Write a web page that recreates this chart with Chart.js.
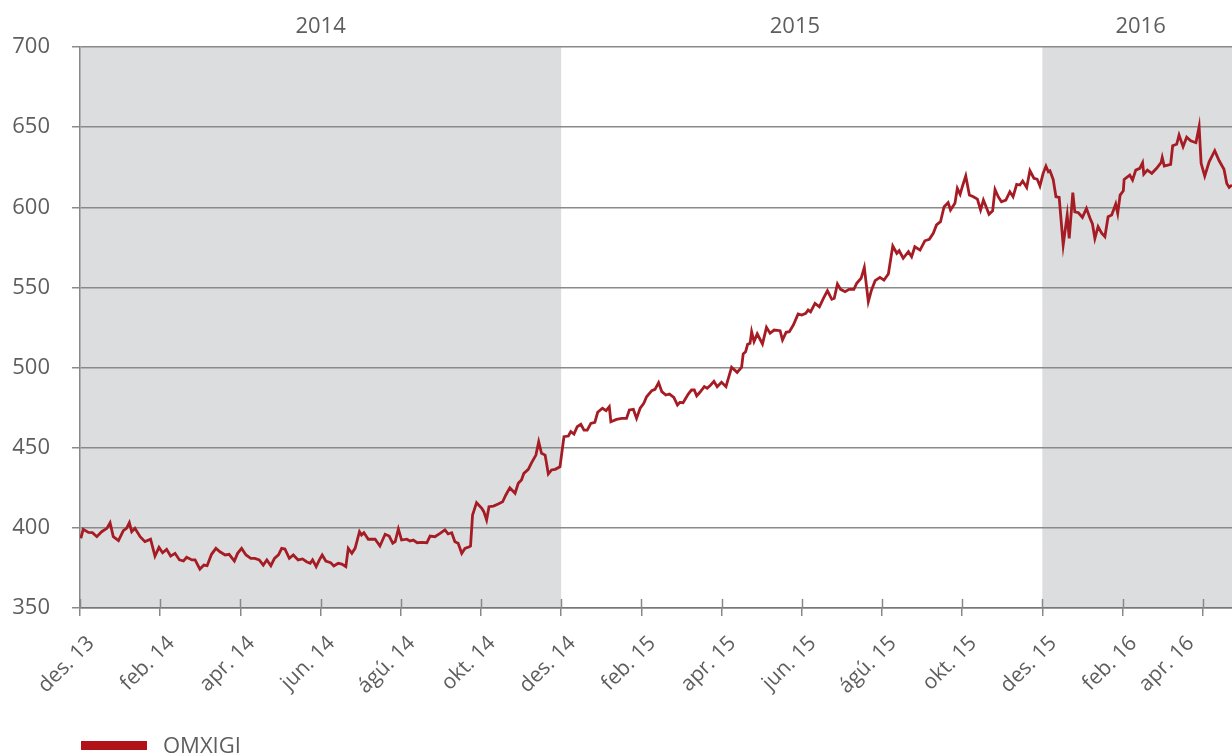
<!DOCTYPE html>
<html>
<head>
<meta charset="utf-8">
<title>OMXIGI</title>
<script src="https://cdn.jsdelivr.net/npm/chart.js@4.4.1/dist/chart.umd.min.js"></script>
<style>
  html, body { margin: 0; padding: 0; background: #fff; overflow: hidden; }
  #wrap { width: 1232px; height: 756px; }
</style>
</head>
<body>
<div id="wrap"><canvas id="myChart"></canvas></div>
<script>
// x-axis labels, one every 2 months starting des. 13 (month 0)
var tickLabels = ['des. 13', 'feb. 14', 'apr. 14', 'jun. 14', 'ágú. 14', 'okt. 14', 'des. 14',
  'feb. 15', 'apr. 15', 'jun. 15', 'ágú. 15', 'okt. 15', 'des. 15', 'feb. 16', 'apr. 16']

// shaded years (in months from des. 13)
var years = ['2014', '2015', '2016']
var yearStart = [0, 12, 24]
var yearEnd = [12, 24, 28.73]
var yearCaptionAt = [6, 17.83, 26.45]
var yearShaded = [true, false, true]

// months since des. 13
var months = [
  0.02, 0.08, 0.21, 0.31, 0.42, 0.54, 0.67, 0.75, 0.83, 0.96, 1.08, 1.16, 1.23, 1.29, 1.37, 1.50,
  1.62, 1.76, 1.87, 1.97, 2.06, 2.16, 2.26, 2.37, 2.48, 2.58, 2.66, 2.79, 2.87, 2.99, 3.09, 3.17,
  3.28, 3.39, 3.49, 3.62, 3.72, 3.85, 3.93, 4.03, 4.14, 4.26, 4.36, 4.47, 4.57, 4.66, 4.76, 4.85,
  4.95, 5.03, 5.11, 5.22, 5.32, 5.44, 5.55, 5.65, 5.74, 5.80, 5.89, 5.97, 6.04, 6.13, 6.25, 6.33,
  6.44, 6.53, 6.63, 6.69, 6.78, 6.86, 6.97, 7.02, 7.08, 7.19, 7.36, 7.48, 7.61, 7.71, 7.80, 7.86,
  7.94, 8.02, 8.15, 8.23, 8.31, 8.41, 8.52, 8.65, 8.73, 8.85, 8.98, 9.10, 9.18, 9.27, 9.35, 9.43,
  9.52, 9.60, 9.71, 9.74, 9.79, 9.89, 10.02, 10.07, 10.14, 10.20, 10.31, 10.43, 10.54, 10.62, 10.72, 10.85,
  10.93, 11.01, 11.07, 11.18, 11.26, 11.37, 11.44, 11.51, 11.60, 11.68, 11.76, 11.85, 11.97, 12.07, 12.18, 12.24,
  12.32, 12.40, 12.49, 12.57, 12.65, 12.74, 12.84, 12.91, 13.03, 13.12, 13.20, 13.24, 13.38, 13.51, 13.63, 13.70,
  13.80, 13.88, 13.97, 14.06, 14.13, 14.26, 14.34, 14.43, 14.51, 14.61, 14.70, 14.81, 14.90, 14.96, 15.04, 15.17,
  15.25, 15.32, 15.38, 15.46, 15.57, 15.64, 15.73, 15.81, 15.89, 16.00, 16.11, 16.25, 16.39, 16.50, 16.54, 16.60,
  16.65, 16.71, 16.75, 16.81, 16.89, 17.02, 17.12, 17.21, 17.31, 17.46, 17.52, 17.61, 17.69, 17.79, 17.91, 18.00,
  18.10, 18.16, 18.22, 18.33, 18.44, 18.54, 18.64, 18.75, 18.81, 18.89, 18.97, 19.08, 19.18, 19.30, 19.37, 19.48,
  19.56, 19.66, 19.74, 19.83, 19.95, 20.05, 20.16, 20.27, 20.37, 20.43, 20.53, 20.66, 20.74, 20.82, 20.95, 21.07,
  21.18, 21.28, 21.36, 21.46, 21.55, 21.65, 21.71, 21.82, 21.88, 21.95, 22.01, 22.09, 22.18, 22.28, 22.38, 22.46,
  22.53, 22.59, 22.67, 22.76, 22.82, 22.90, 22.98, 23.09, 23.19, 23.27, 23.36, 23.44, 23.51, 23.61, 23.69, 23.79,
  23.87, 23.94, 24.02, 24.09, 24.15, 24.19, 24.27, 24.34, 24.42, 24.52, 24.62, 24.67, 24.76, 24.81, 24.90, 25.00,
  25.10, 25.19, 25.25, 25.31, 25.39, 25.48, 25.56, 25.64, 25.73, 25.83, 25.88, 25.94, 26.02, 26.04, 26.18, 26.25,
  26.33, 26.43, 26.50, 26.53, 26.62, 26.73, 26.85, 26.96, 26.99, 27.04, 27.20, 27.25, 27.35, 27.41, 27.51, 27.60,
  27.70, 27.83, 27.91, 27.96, 28.05, 28.16, 28.30, 28.41, 28.53, 28.60, 28.66, 28.73
]

// OMXIGI index values
var omxigi = [
  393.5, 399.1, 397.2, 397.0, 394.5, 397.6, 399.7, 403.2, 394.5, 392.0, 398.2, 399.7, 403.2, 397.6, 399.7, 394.5,
  391.4, 392.9, 382.4, 387.8, 384.5, 386.6, 382.4, 384.1, 380.0, 379.3, 381.6, 380.0, 380.0, 374.3, 376.8, 376.4,
  383.5, 387.2, 385.1, 383.1, 383.5, 379.3, 384.1, 387.2, 383.1, 381.0, 381.0, 380.0, 376.8, 380.0, 376.4, 381.0,
  383.1, 387.2, 386.8, 381.0, 383.1, 380.0, 380.6, 378.9, 377.9, 380.0, 375.8, 380.0, 383.1, 379.3, 378.3, 376.2,
  377.9, 377.4, 375.8, 387.2, 384.1, 387.2, 397.6, 395.5, 397.0, 392.9, 392.9, 388.7, 396.0, 394.9, 390.4, 391.4,
  399.3, 392.4, 392.9, 391.8, 392.4, 390.7, 391.0, 390.7, 394.9, 394.5, 396.6, 398.7, 396.2, 397.0, 391.4, 390.4,
  384.1, 387.2, 388.2, 388.7, 408.0, 415.7, 412.2, 410.1, 404.9, 413.2, 413.6, 414.9, 416.3, 420.5, 425.0, 421.6,
  427.8, 429.9, 434.0, 436.5, 440.6, 445.4, 453.7, 446.5, 445.4, 433.6, 436.1, 436.5, 438.1, 456.9, 457.3, 460.0,
  458.5, 463.1, 464.6, 461.0, 461.0, 465.2, 465.8, 472.1, 474.6, 473.1, 475.6, 466.2, 467.7, 468.3, 468.3, 473.5,
  474.0, 468.3, 474.6, 477.7, 481.8, 485.6, 486.4, 490.6, 485.0, 482.9, 483.5, 481.4, 476.6, 478.3, 478.1, 483.5,
  486.0, 486.0, 482.3, 484.6, 488.1, 487.1, 489.1, 491.4, 488.1, 490.8, 488.1, 500.2, 497.0, 500.2, 508.5, 509.9,
  514.5, 515.1, 522.4, 516.2, 521.0, 514.7, 525.1, 521.4, 523.4, 523.0, 517.2, 522.0, 522.4, 526.5, 533.4, 532.8,
  533.8, 535.9, 534.8, 540.1, 537.9, 543.2, 547.9, 542.6, 543.2, 552.1, 548.8, 547.3, 548.8, 548.8, 552.6, 555.7,
  562.5, 541.1, 548.4, 554.2, 556.3, 554.6, 558.4, 575.8, 571.3, 572.9, 568.2, 572.3, 569.2, 575.4, 573.3, 579.1,
  580.0, 583.8, 589.0, 591.0, 600.4, 602.9, 598.3, 602.5, 611.8, 608.1, 613.3, 619.5, 607.6, 606.6, 605.1, 598.3,
  604.5, 600.8, 595.6, 597.8, 611.1, 606.6, 603.4, 604.5, 609.7, 606.6, 614.3, 613.9, 616.4, 612.4, 622.8, 618.1,
  617.6, 613.3, 621.2, 625.7, 622.2, 622.8, 617.4, 606.6, 606.2, 576.5, 595.2, 580.6, 609.1, 597.2, 596.6, 593.7,
  599.3, 593.1, 589.6, 580.6, 587.9, 583.8, 581.7, 594.1, 595.2, 602.0, 596.2, 607.6, 610.3, 617.4, 620.1, 617.0,
  623.2, 624.3, 627.8, 620.7, 623.2, 621.2, 624.3, 627.8, 631.1, 625.7, 626.8, 638.4, 639.3, 645.1, 637.8, 643.7,
  641.5, 640.3, 650.3, 627.4, 619.5, 628.4, 635.3, 629.0, 623.7, 614.9, 612.4, 613.9
]

var textColor = '#5e5e5e'
var fontFamily = '"Open Sans", "DejaVu Sans", sans-serif'

// grey year bands + year captions above the plot
var yearBands = {
  id: 'yearBands',
  beforeDraw: function (chart) {
    var ctx = chart.ctx
    var area = chart.chartArea
    var x = chart.scales.x
    ctx.save()
    for (var i = 0; i < years.length; i++) {
      var x0 = Math.max(x.getPixelForValue(yearStart[i]), area.left)
      var x1 = Math.min(x.getPixelForValue(yearEnd[i]), area.right)
      if (yearShaded[i]) {
        ctx.fillStyle = '#dcdddf'
        ctx.fillRect(x0, area.top, x1 - x0, area.bottom - area.top)
      }
      ctx.fillStyle = textColor
      ctx.font = '22px ' + fontFamily
      ctx.textAlign = 'center'
      ctx.textBaseline = 'middle'
      ctx.fillText(years[i], x.getPixelForValue(yearCaptionAt[i]), 27)
    }
    ctx.restore()

    // keep the last rotated label inside the canvas, like the original
    var lastLabel = tickLabels[tickLabels.length - 1]
    x.getLabelItems(area).forEach(function (item) {
      if (item.label === lastLabel && !item.nudged) {
        item.options.translation[0] -= 23
        item.nudged = true
      }
    })
  }
}

// x ticks also poke a little above the axis; legend sits under the labels
var extras = {
  id: 'extras',
  afterDraw: function (chart) {
    var ctx = chart.ctx
    var area = chart.chartArea
    var x = chart.scales.x
    ctx.save()
    ctx.strokeStyle = '#888'
    ctx.lineWidth = 1.5
    x.ticks.forEach(function (t) {
      var px = Math.round(x.getPixelForValue(t.value)) + 0.5
      ctx.beginPath()
      ctx.moveTo(px, area.bottom - 9)
      ctx.lineTo(px, area.bottom)
      ctx.stroke()
    })
    var ds = chart.data.datasets[0]
    ctx.fillStyle = '#b01218'
    ctx.fillRect(81, 741, 66, 9)
    ctx.fillStyle = textColor
    ctx.font = '22px ' + fontFamily
    ctx.textAlign = 'left'
    ctx.textBaseline = 'alphabetic'
    ctx.fillText(ds.label, 163, 753)
    ctx.restore()
  }
}

var points = months.map(function (m, i) { return { x: m, y: omxigi[i] } })

new Chart(document.getElementById('myChart'), {
  type: 'line',
  data: {
    datasets: [{
      label: 'OMXIGI',
      data: points,
      borderColor: '#a51c24',
      borderWidth: 2.8,
      pointRadius: 0,
      tension: 0,
      fill: false
    }]
  },
  options: {
    responsive: true,
    maintainAspectRatio: false,
    animation: false,
    layout: { padding: { top: 47, right: 0, bottom: 48, left: 0 } },
    plugins: {
      legend: { display: false },
      tooltip: { enabled: false }
    },
    scales: {
      x: {
        type: 'linear',
        min: 0,
        max: 28.73,
        afterBuildTicks: function (s) {
          s.ticks = s.ticks.filter(function (t) { return t.value % 2 === 0 })
        },
        afterFit: function (s) {
          s.height = 100
          s.paddingLeft = 0
          s.paddingRight = 0
        },
        border: { display: true, color: '#777', width: 1.5 },
        grid: { drawOnChartArea: false, drawTicks: true, tickLength: 8, color: '#888', lineWidth: 1.5 },
        ticks: {
          stepSize: 2,
          includeBounds: false,
          autoSkip: false,
          maxRotation: 45,
          minRotation: 45,
          padding: 15,
          labelOffset: 11,
          color: textColor,
          font: { family: fontFamily, size: 21 },
          callback: function (v) { return tickLabels[v / 2] }
        }
      },
      y: {
        min: 350,
        max: 700,
        afterFit: function (s) { s.width = 80 },
        border: { display: true, color: '#888', width: 1.5 },
        grid: { color: '#8a8a8a', lineWidth: 1.5, tickLength: 8 },
        ticks: {
          stepSize: 50,
          padding: 22,
          color: textColor,
          font: { family: fontFamily, size: 22 }
        }
      }
    }
  },
  plugins: [yearBands, extras]
})
</script>
</body>
</html>
